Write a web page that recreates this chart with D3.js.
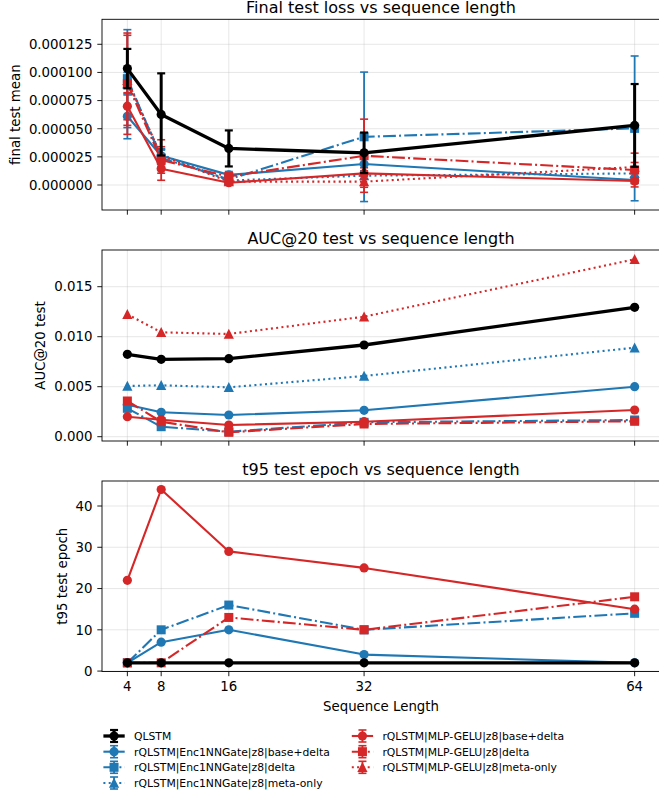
<!DOCTYPE html>
<html><head><meta charset="utf-8">
<script src="https://cdn.jsdelivr.net/npm/d3@7"></script>
<style>
body{margin:0;background:#fff}
svg{display:block}
text{font-family:"DejaVu Sans",sans-serif;fill:#000}
</style>
</head><body><div id="chart"></div>
<script>
// ---------- DATA ----------
const seqLens = [4, 8, 16, 32, 64];
const seriesNames = [
  "QLSTM",
  "rQLSTM|Enc1NNGate|z8|base+delta",
  "rQLSTM|Enc1NNGate|z8|delta",
  "rQLSTM|Enc1NNGate|z8|meta-only",
  "rQLSTM|MLP-GELU|z8|base+delta",
  "rQLSTM|MLP-GELU|z8|delta",
  "rQLSTM|MLP-GELU|z8|meta-only"
];
// final test mean (rows follow seriesNames)
const finalTestMean = [
  [0.0001034, 0.0000627, 0.0000325, 0.0000286, 0.0000529],
  [0.0000611, 0.0000260, 0.0000090, 0.0000186, 0.0000044],
  [0.0000945, 0.0000240, 0.0000050, 0.0000428, 0.0000503],
  [0.0000900, 0.0000270, 0.0000040, 0.0000083, 0.0000103],
  [0.0000700, 0.0000145, 0.0000020, 0.0000103, 0.0000035],
  [0.0000900, 0.0000222, 0.0000075, 0.0000260, 0.0000133],
  [0.0000930, 0.0000260, 0.0000030, 0.0000030, 0.0000160]
];
const finalTestErr = [
  [0.0000175, 0.0000365, 0.0000160, 0.0000180, 0.0000368],
  [0.0000200, 0.0000050, 0.0000030, 0.0000060, 0.0000030],
  [0.0000435, 0.0000080, 0.0000030, 0.0000575, 0.0000643],
  [0.0000100, 0.0000050, 0.0000020, 0.0000030, 0.0000030],
  [0.0000120, 0.0000040, 0.0000020, 0.0000050, 0.0000020],
  [0.0000450, 0.0000180, 0.0000030, 0.0000325, 0.0000150],
  [0.0000400, 0.0000080, 0.0000020, 0.0000050, 0.0000040]
];
const auc20Test = [
  [0.00824, 0.00774, 0.00780, 0.00917, 0.01294],
  [0.00320, 0.00244, 0.00217, 0.00264, 0.00500],
  [0.00284, 0.00100, 0.00050, 0.00144, 0.00167],
  [0.00507, 0.00514, 0.00494, 0.00607, 0.00890],
  [0.00200, 0.00170, 0.00117, 0.00150, 0.00267],
  [0.00357, 0.00150, 0.00044, 0.00127, 0.00154],
  [0.01224, 0.01044, 0.01027, 0.01200, 0.01774]
];
const t95TestEpoch = [
  [2, 2, 2, 2, 2],
  [2, 7, 10, 4, 2],
  [2, 10, 16, 10, 14],
  [null, null, null, null, null],
  [22, 44, 29, 25, 15],
  [2, 2, 13, 10, 18],
  [null, null, null, null, null]
];
const finalTicks = [0, 0.000025, 0.00005, 0.000075, 0.0001, 0.000125];
const aucTicks = [0, 0.005, 0.010, 0.015];
const t95Ticks = [0, 10, 20, 30, 40];

// ---------- STYLE ----------
const colors = ["#000000", "#1f77b4", "#1f77b4", "#1f77b4", "#d62728", "#d62728", "#d62728"];
const dashes = [null, null, "12.8,3.2,2,3.2", "2,3.3", null, "12.8,3.2,2,3.2", "2,3.3"];
const markers = ["circle", "circle", "square", "triangle", "circle", "square", "triangle"];
const widths = [3.3, 2.1, 2.1, 2.1, 2.1, 2.1, 2.1];
const drawOrder = [1, 2, 3, 4, 5, 6, 0];

const W = 659, H = 795;
const xL = 102, xR = 660;
const svg = d3.select("#chart").append("svg").attr("width", W).attr("height", H);
svg.append("rect").attr("width", W).attr("height", H).attr("fill", "#fff");

const x = d3.scaleLinear().domain([1, 67]).range([xL, xR]);

function marker(g, type, cx, cy, color) {
  if (type === "circle") {
    g.append("circle").attr("cx", cx).attr("cy", cy).attr("r", 4.6).attr("fill", color);
  } else if (type === "square") {
    g.append("rect").attr("x", cx - 4.5).attr("y", cy - 4.5).attr("width", 9).attr("height", 9).attr("fill", color);
  } else {
    g.append("path").attr("d", `M${cx},${cy - 5.2}L${cx - 5.1},${cy + 4.7}L${cx + 5.1},${cy + 4.7}Z`).attr("fill", color);
  }
}

function panel(top, bottom, domain, ticks, fmt, values, errors, title, ylabel, ylabelX, showX) {
  const y = d3.scaleLinear().domain(domain).range([bottom, top]);
  const g = svg.append("g");
  // grid
  g.selectAll(".gx").data(seqLens).join("line")
    .attr("x1", d => x(d)).attr("x2", d => x(d)).attr("y1", top).attr("y2", bottom)
    .attr("stroke", "#b0b0b0").attr("stroke-opacity", 0.35).attr("stroke-width", 0.9);
  g.selectAll(".gy").data(ticks).join("line")
    .attr("x1", xL).attr("x2", xR).attr("y1", d => y(d)).attr("y2", d => y(d))
    .attr("stroke", "#b0b0b0").attr("stroke-opacity", 0.35).attr("stroke-width", 0.9);
  // series
  const line = d3.line().defined(d => d[1] !== null).x(d => x(d[0])).y(d => y(d[1]));
  drawOrder.forEach(i => {
    const pts = seqLens.map((s, k) => [s, values[i][k]]);
    const sg = g.append("g");
    if (pts.every(p => p[1] === null)) return;
    sg.append("path").attr("d", line(pts)).attr("fill", "none")
      .attr("stroke", colors[i]).attr("stroke-width", widths[i])
      .attr("stroke-dasharray", dashes[i]).attr("stroke-linejoin", "round");
    if (errors) {
      const ew = i === 0 ? 3 : 1.8;
      pts.forEach((p, k) => {
        const e = errors[i][k];
        const y1 = y(p[1] - e), y2 = y(p[1] + e), cx = x(p[0]);
        sg.append("line").attr("x1", cx).attr("x2", cx).attr("y1", y1).attr("y2", y2)
          .attr("stroke", colors[i]).attr("stroke-width", ew);
        [y1, y2].forEach(yy => sg.append("line").attr("x1", cx - 4).attr("x2", cx + 4)
          .attr("y1", yy).attr("y2", yy).attr("stroke", colors[i]).attr("stroke-width", i === 0 ? 2.2 : 1.6));
      });
    }
    pts.filter(p => p[1] !== null).forEach(p => marker(sg, markers[i], x(p[0]), y(p[1]), colors[i]));
  });
  // spines
  const sp = g.append("g").attr("stroke", "#000").attr("stroke-width", 0.9).attr("fill", "none");
  sp.append("rect").attr("x", xL).attr("y", top).attr("width", xR - xL).attr("height", bottom - top);
  // y ticks
  ticks.forEach(t => {
    sp.append("line").attr("x1", xL - 4.7).attr("x2", xL).attr("y1", y(t)).attr("y2", y(t));
    g.append("text").attr("x", xL - 9.5).attr("y", y(t)).attr("dy", "0.36em")
      .attr("text-anchor", "end").attr("font-size", "13.33px").text(fmt(t));
  });
  // x ticks
  seqLens.forEach(s => {
    sp.append("line").attr("x1", x(s)).attr("x2", x(s)).attr("y1", bottom).attr("y2", bottom + 4.7);
    if (showX) g.append("text").attr("x", x(s)).attr("y", bottom + 9.5).attr("dy", "0.76em")
      .attr("text-anchor", "middle").attr("font-size", "13.33px").text(s);
  });
  g.append("text").attr("x", (xL + xR) / 2).attr("y", top - 6.4).attr("text-anchor", "middle")
    .attr("font-size", "16px").text(title);
  g.append("text").attr("transform", `translate(${ylabelX},${(top + bottom) / 2}) rotate(-90)`)
    .attr("dy", "0.36em").attr("text-anchor", "middle").attr("font-size", "13.33px").text(ylabel);
}

panel(19.3, 210, [-0.0000222, 0.0001472], finalTicks, d3.format(".6f"), finalTestMean, finalTestErr,
  "Final test loss vs sequence length", "final test mean", 15, false);
panel(250, 441, [-0.00043, 0.01867], aucTicks, d3.format(".3f"), auc20Test, null,
  "AUC@20 test vs sequence length", "AUC@20 test", 40, false);
panel(481, 671.5, [-0.1, 46.06], t95Ticks, d3.format("d"), t95TestEpoch, null,
  "t95 test epoch vs sequence length", "t95 test epoch", 62, true);

svg.append("text").attr("x", (xL + xR) / 2).attr("y", 711).attr("text-anchor", "middle")
  .attr("font-size", "13.33px").text("Sequence Length");

// ---------- LEGEND ----------
const rowsY = [736, 751.7, 767.3, 783];
const lg = svg.append("g");
seriesNames.forEach((name, i) => {
  const col = i < 4 ? 0 : 1;
  const row = i < 4 ? i : i - 4;
  const hx0 = col === 0 ? 103.4 : 351.8;
  const hx1 = hx0 + 21.3;
  const cy = rowsY[row];
  const cx = (hx0 + hx1) / 2;
  const hg = lg.append("g");
  hg.append("line").attr("x1", hx0).attr("x2", hx1).attr("y1", cy).attr("y2", cy)
    .attr("stroke", colors[i]).attr("stroke-width", widths[i])
    .attr("stroke-dasharray", dashes[i]);
  hg.append("line").attr("x1", cx).attr("x2", cx).attr("y1", cy - 6).attr("y2", cy + 6)
    .attr("stroke", colors[i]).attr("stroke-width", i === 0 ? 3 : 1.8);
  [cy - 6, cy + 6].forEach(yy => hg.append("line").attr("x1", cx - 4).attr("x2", cx + 4)
    .attr("y1", yy).attr("y2", yy).attr("stroke", colors[i]).attr("stroke-width", i === 0 ? 2.2 : 1.6));
  marker(hg, markers[i], cx, cy, colors[i]);
  lg.append("text").attr("x", hx1 + 9.3).attr("y", cy).attr("dy", "0.36em")
    .attr("font-size", "10.8px").text(name);
});
</script>
</body></html>
